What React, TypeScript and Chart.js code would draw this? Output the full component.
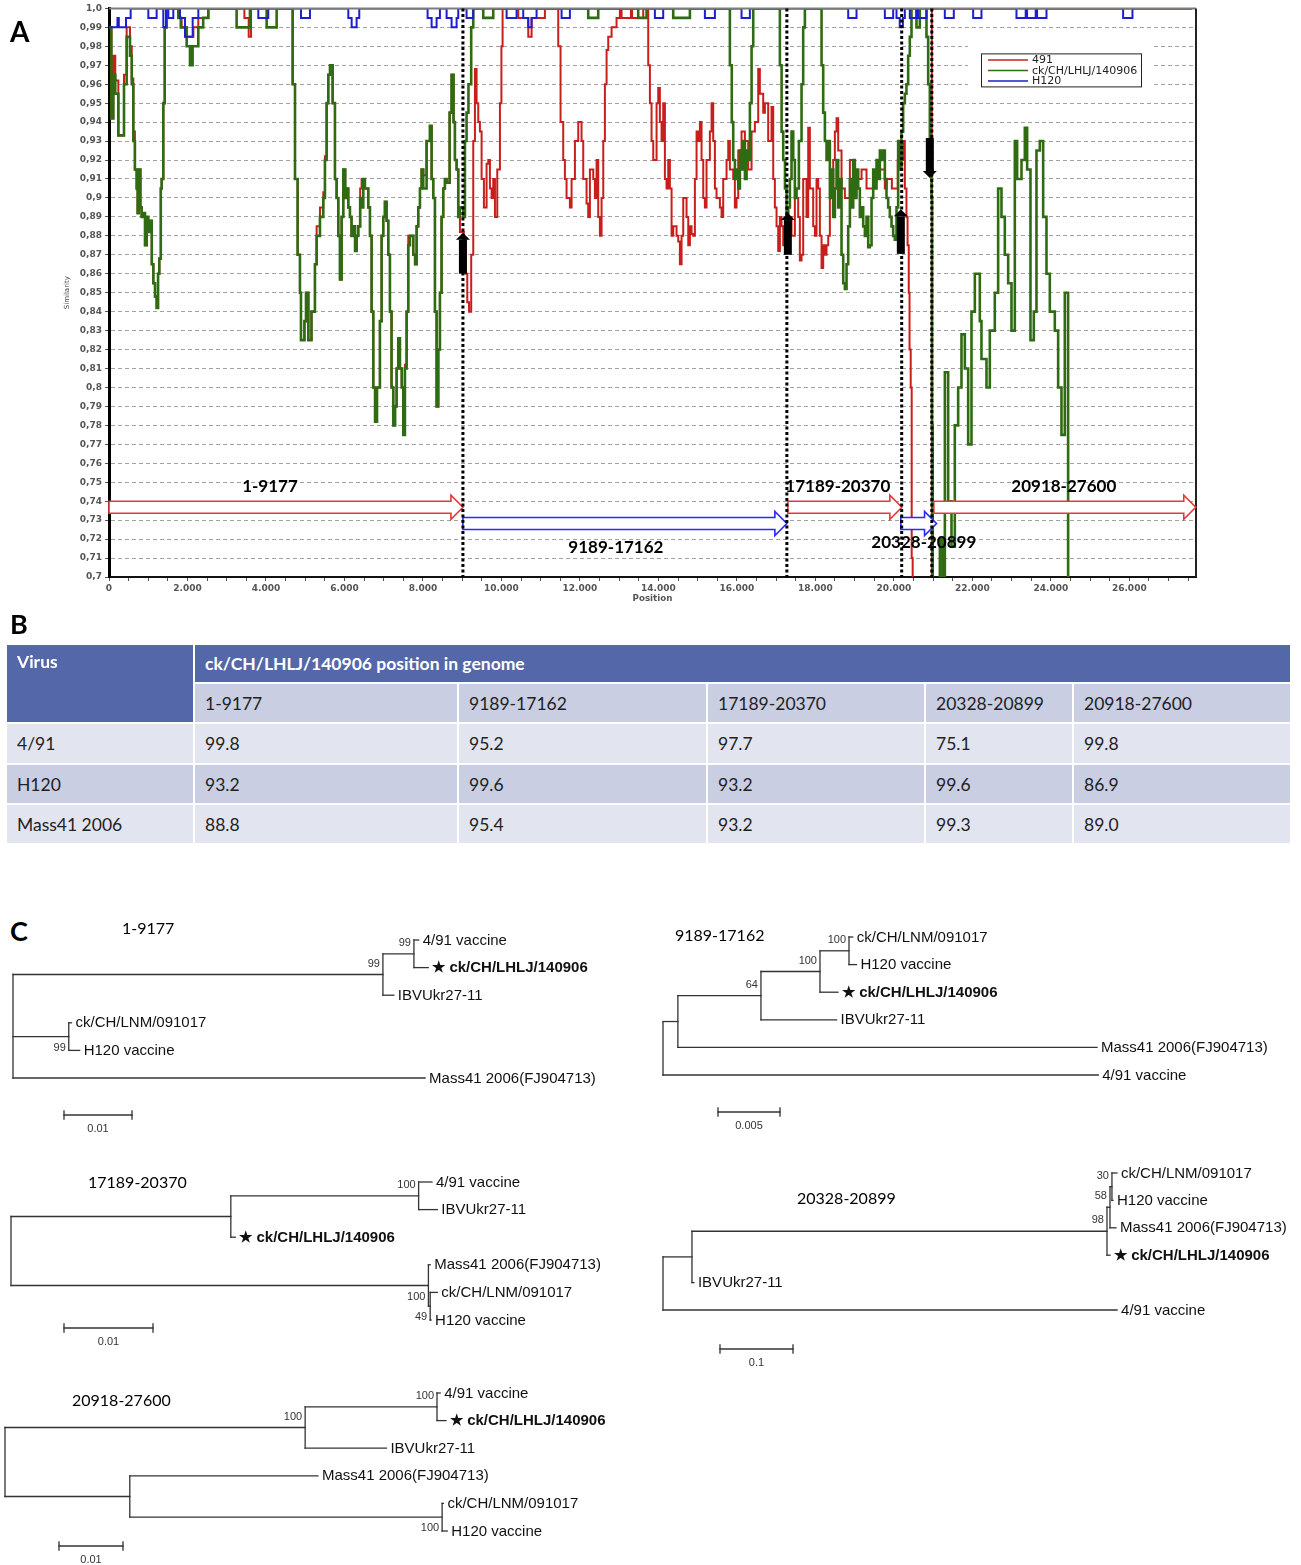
import React, { useEffect, useRef } from 'react';
import { Chart, registerables } from 'chart.js';

Chart.register(...registerables);

type Pt = [number, number];

// ================= Panel A : similarity plot data =================
const seriesLabels = ['491', 'ck/CH/LHLJ/140906', 'H120'];

const series491: Pt[] = [
  [0, 0.99], [60, 0.942], [110, 0.975], [160, 0.962], [238, 0.933], [382, 0.965], [450, 0.99], [535, 0.98], [580, 0.963], [620, 0.935],
  [660, 0.915], [705, 0.905], [730, 0.892], [760, 0.915], [800, 0.895], [832, 0.89], [870, 0.892], [917, 0.875], [960, 0.89], [1000, 0.882],
  [1045, 0.888], [1090, 0.865], [1130, 0.855], [1172, 0.848], [1214, 0.842], [1250, 0.86], [1282, 0.868], [1320, 0.905], [1342, 0.91], [1384, 0.95],
  [1420, 0.99], [1469, 1.0], [1766, 0.995], [1850, 0.99], [1950, 0.985], [2150, 0.99], [2276, 0.995], [2531, 1.0], [3450, 0.995], [3560, 0.985], [3620, 1.0],
  [4680, 0.96], [4740, 0.91], [4807, 0.87], [4866, 0.85], [4892, 0.825], [4980, 0.835], [5020, 0.85], [5080, 0.825], [5160, 0.84], [5248, 0.865],
  [5291, 0.885], [5376, 0.895], [5461, 0.903], [5503, 0.922], [5546, 0.95], [5588, 0.965], [5631, 0.97], [5699, 0.95], [5758, 0.91], [5800, 0.9],
  [5843, 0.88], [5885, 0.857], [5928, 0.89], [5970, 0.915], [6020, 0.9], [6055, 0.905], [6098, 0.895], [6140, 0.89], [6180, 0.88], [6225, 0.885],
  [6270, 0.872], [6310, 0.88], [6352, 0.885], [6400, 0.905], [6437, 0.91], [6480, 0.91], [6522, 0.905], [6607, 0.895], [6650, 0.88], [6692, 0.84],
  [6735, 0.8], [6780, 0.782], [6830, 0.8], [6904, 0.835], [6947, 0.88], [6989, 0.89], [7030, 0.898], [7074, 0.888], [7117, 0.87], [7159, 0.84],
  [7200, 0.8], [7244, 0.78], [7290, 0.79], [7329, 0.81], [7371, 0.826], [7414, 0.81], [7460, 0.8], [7499, 0.79], [7541, 0.812], [7584, 0.84],
  [7626, 0.88], [7669, 0.88], [7754, 0.87], [7800, 0.865], [7839, 0.885], [7881, 0.895], [7924, 0.905], [7966, 0.915], [8008, 0.912], [8093, 0.93],
  [8178, 0.938], [8221, 0.91], [8263, 0.9], [8306, 0.84], [8348, 0.79], [8391, 0.82], [8433, 0.85], [8475, 0.89], [8518, 0.905], [8560, 0.91],
  [8603, 0.908], [8680, 0.945], [8730, 0.965], [8780, 0.94], [8815, 0.92], [8858, 0.915], [8900, 0.89], [8943, 0.882], [9044, 0.878], [9090, 0.86],
  [9130, 0.845], [9175, 0.84], [9230, 0.87], [9282, 0.93], [9325, 0.968], [9367, 0.95], [9410, 0.94], [9452, 0.935], [9495, 0.91], [9554, 0.895],
  [9622, 0.918], [9665, 0.92], [9707, 0.905], [9750, 0.9], [9792, 0.91], [9835, 0.89], [9894, 0.915], [9962, 0.95], [10000, 0.98], [10030, 1.0],
  [10429, 0.995], [10684, 0.985], [10769, 0.995], [11108, 1.0],
  [11448, 0.98], [11507, 0.94], [11575, 0.92], [11618, 0.91], [11660, 0.9], [11745, 0.895], [11788, 0.91], [11873, 0.93], [11958, 0.94], [12042, 0.93],
  [12085, 0.91], [12170, 0.897], [12212, 0.89], [12255, 0.915], [12340, 0.91], [12382, 0.9], [12425, 0.92], [12467, 0.89], [12510, 0.88], [12552, 0.9],
  [12595, 0.93], [12637, 0.96], [12680, 0.978], [12722, 0.985], [12807, 0.99], [12934, 0.995], [13019, 1.0], [13062, 0.995], [13300, 1.0], [13330, 0.995], [13614, 1.0],
  [13741, 0.97], [13784, 0.95], [13826, 0.93], [13869, 0.92], [13954, 0.95], [13996, 0.958], [14038, 0.94], [14081, 0.93], [14123, 0.95], [14166, 0.91],
  [14208, 0.905], [14251, 0.92], [14293, 0.905], [14336, 0.88], [14378, 0.885], [14463, 0.88], [14506, 0.877], [14548, 0.865], [14591, 0.88], [14633, 0.9],
  [14718, 0.89], [14761, 0.875], [14803, 0.885], [14845, 0.881], [14888, 0.88], [14930, 0.91], [14973, 0.935], [15015, 0.93], [15058, 0.94], [15100, 0.92],
  [15143, 0.9], [15185, 0.895], [15227, 0.92], [15312, 0.935], [15355, 0.95], [15397, 0.93], [15440, 0.905], [15482, 0.9], [15567, 0.895], [15610, 0.89],
  [15652, 0.91], [15737, 0.92], [15780, 0.93], [15822, 0.915], [15907, 0.91], [15949, 0.895], [15992, 0.9], [16035, 0.925], [16119, 0.935], [16204, 0.93],
  [16289, 0.915], [16374, 0.935], [16459, 0.94], [16544, 0.968], [16586, 0.955], [16671, 0.945], [16714, 0.95], [16798, 0.93], [16883, 0.948], [16926, 0.91],
  [16968, 0.895], [17011, 0.885], [17053, 0.872], [17096, 0.89], [17138, 0.885], [17181, 0.875], [17266, 0.88], [17308, 0.89], [17393, 0.88], [17478, 0.9],
  [17563, 0.89], [17605, 0.867], [17648, 0.87], [17690, 0.91], [17775, 0.89], [17818, 0.937], [17860, 0.905], [17945, 0.885], [17988, 0.88], [18030, 0.91],
  [18073, 0.905], [18115, 0.88], [18158, 0.863], [18200, 0.875], [18243, 0.87], [18285, 0.875], [18328, 0.88], [18370, 0.9], [18455, 0.92], [18497, 0.935],
  [18540, 0.942], [18582, 0.925], [18667, 0.905], [18752, 0.9], [18880, 0.92], [19007, 0.91], [19177, 0.915], [19304, 0.905], [19474, 0.91], [19644, 0.915],
  [19770, 0.905], [19813, 0.91], [19950, 0.905], [20100, 0.92], [20237, 0.93], [20280, 0.905], [20322, 0.89], [20350, 0.875], [20380, 0.85], [20400, 0.82],
  [20430, 0.8], [20455, 0.71], [20480, 0.66], [20968, 1.0], [27600, 1.0],
];

const seriesLHLJ: Pt[] = [
  [0, 0.99], [60, 0.942], [110, 0.965], [160, 0.955], [238, 0.933], [382, 0.96], [450, 0.985], [535, 0.975], [580, 0.96], [620, 0.93],
  [660, 0.915], [705, 0.905], [730, 0.892], [760, 0.915], [800, 0.895], [832, 0.89], [870, 0.892], [917, 0.875], [960, 0.89], [1000, 0.882],
  [1045, 0.888], [1090, 0.865], [1130, 0.855], [1172, 0.848], [1214, 0.842], [1250, 0.86], [1282, 0.868], [1320, 0.905], [1342, 0.91], [1384, 0.95],
  [1420, 0.99], [1469, 1.0], [1766, 0.995], [1830, 0.99], [1979, 0.98], [2064, 0.97], [2130, 0.98], [2276, 0.99], [2400, 0.995], [2531, 1.0],
  [3252, 0.99], [3592, 1.0], [4017, 0.99], [4272, 1.0],
  [4680, 0.96], [4740, 0.91], [4807, 0.87], [4866, 0.85], [4892, 0.825], [4980, 0.835], [5020, 0.85], [5080, 0.825], [5160, 0.84], [5248, 0.865],
  [5291, 0.88], [5376, 0.89], [5461, 0.9], [5503, 0.92], [5546, 0.95], [5588, 0.965], [5631, 0.97], [5699, 0.95], [5758, 0.91], [5800, 0.9],
  [5843, 0.88], [5885, 0.857], [5928, 0.89], [5970, 0.915], [6020, 0.9], [6055, 0.905], [6098, 0.895], [6140, 0.89], [6180, 0.88], [6225, 0.885],
  [6270, 0.872], [6310, 0.88], [6352, 0.885], [6400, 0.9], [6437, 0.895], [6480, 0.91], [6522, 0.905], [6607, 0.895], [6650, 0.88], [6692, 0.84],
  [6735, 0.8], [6780, 0.782], [6830, 0.8], [6904, 0.835], [6947, 0.88], [6989, 0.89], [7030, 0.898], [7074, 0.888], [7117, 0.87], [7159, 0.84],
  [7200, 0.8], [7244, 0.78], [7290, 0.79], [7329, 0.81], [7371, 0.826], [7414, 0.81], [7460, 0.8], [7499, 0.775], [7541, 0.81], [7584, 0.84],
  [7626, 0.875], [7669, 0.88], [7754, 0.87], [7800, 0.865], [7839, 0.885], [7881, 0.895], [7924, 0.905], [7966, 0.915], [8008, 0.905], [8093, 0.93],
  [8178, 0.938], [8221, 0.91], [8263, 0.9], [8306, 0.84], [8348, 0.79], [8391, 0.82], [8433, 0.85], [8475, 0.89], [8518, 0.905], [8560, 0.91],
  [8603, 0.908], [8680, 0.945], [8730, 0.965], [8780, 0.94], [8815, 0.92], [8858, 0.915], [8900, 0.89], [8943, 0.895], [9028, 0.89], [9070, 0.93],
  [9112, 0.945], [9160, 0.96], [9230, 0.99], [9282, 1.0],
  [9537, 0.995], [9792, 1.0], [12212, 0.995], [12467, 1.0], [13486, 0.995], [13699, 1.0], [14378, 0.995], [14803, 1.0],
  [15822, 0.97], [15870, 0.94], [15907, 0.92], [15950, 0.91], [15992, 0.915], [16035, 0.905], [16077, 0.925], [16120, 0.915], [16162, 0.93], [16205, 0.91],
  [16247, 0.925], [16290, 0.92], [16332, 0.95], [16375, 0.98], [16417, 1.0],
  [17096, 0.97], [17140, 0.935], [17181, 0.92], [17226, 0.905], [17266, 0.89], [17310, 0.895], [17351, 0.91], [17393, 0.935], [17436, 0.92], [17478, 0.9],
  [17521, 0.905], [17580, 0.93], [17648, 0.96], [17690, 0.99], [17733, 1.0],
  [18158, 0.97], [18200, 0.945], [18243, 0.93], [18285, 0.92], [18328, 0.93], [18370, 0.9], [18413, 0.915], [18455, 0.89], [18497, 0.905], [18540, 0.92],
  [18582, 0.895], [18625, 0.91], [18667, 0.87], [18710, 0.855], [18752, 0.852], [18795, 0.865], [18837, 0.885], [18880, 0.91], [18922, 0.895], [18965, 0.92],
  [19007, 0.9], [19049, 0.915], [19092, 0.905], [19134, 0.89], [19177, 0.895], [19219, 0.885], [19262, 0.88], [19304, 0.89], [19347, 0.874], [19389, 0.875],
  [19432, 0.9], [19474, 0.915], [19517, 0.905], [19559, 0.92], [19601, 0.91], [19644, 0.925], [19686, 0.92], [19728, 0.925], [19771, 0.91], [19813, 0.9],
  [19856, 0.895], [19898, 0.89], [19941, 0.885], [19983, 0.88], [20025, 0.878], [20068, 0.895], [20110, 0.93], [20153, 0.915], [20195, 0.935], [20237, 0.95],
  [20280, 0.955], [20322, 0.96], [20365, 0.975], [20407, 0.985], [20450, 1.0], [20577, 0.99], [20662, 1.0], [20832, 0.985], [20875, 0.96], [20917, 0.93],
  [20960, 0.9], [20975, 0.78], [20990, 0.69],
  [21173, 0.72], [21240, 0.69], [21300, 0.808], [21384, 0.74], [21469, 0.716], [21554, 0.78], [21639, 0.8], [21724, 0.828], [21809, 0.81], [21894, 0.77],
  [21979, 0.84], [22064, 0.86], [22191, 0.835], [22233, 0.815], [22361, 0.8], [22446, 0.83], [22573, 0.85], [22658, 0.905], [22743, 0.89], [22828, 0.87],
  [22913, 0.855], [22998, 0.83], [23083, 0.93], [23142, 0.91], [23253, 0.92], [23338, 0.937], [23397, 0.915], [23482, 0.825], [23567, 0.84], [23635, 0.925],
  [23720, 0.93], [23805, 0.89], [23890, 0.86], [23975, 0.84], [24102, 0.83], [24187, 0.8], [24272, 0.775], [24357, 0.85], [24441, 0.66], [24600, 0.66],
];

const seriesH120: Pt[] = [
  [0, 0.99], [215, 0.995], [250, 0.99], [433, 0.995], [552, 1.0],
  [1002, 0.995], [1214, 1.0], [1384, 0.99], [1452, 1.0], [1512, 0.995], [1639, 1.0], [1809, 0.995], [1936, 0.985], [2132, 0.995], [2276, 1.0],
  [3805, 0.995], [4059, 1.0], [4892, 0.995], [5121, 1.0], [6098, 0.995], [6183, 0.99], [6310, 0.995], [6378, 1.0],
  [8119, 0.995], [8221, 0.99], [8348, 0.995], [8433, 1.0], [8603, 0.995], [8730, 0.99], [8858, 0.995], [8900, 1.0], [9112, 0.995], [9282, 1.0],
  [10132, 0.995], [10387, 1.0], [10556, 0.995], [10684, 0.99], [10769, 0.995], [10896, 1.0], [11533, 0.995], [11745, 1.0],
  [13911, 0.995], [14123, 1.0], [15185, 0.995], [15440, 1.0], [16119, 0.995], [16331, 1.0], [18837, 0.995], [19049, 1.0],
  [19771, 0.995], [19983, 1.0], [20068, 0.995], [20150, 0.99], [20230, 0.995], [20280, 1.0], [20407, 0.995], [20577, 1.0], [20620, 0.995], [20832, 1.0],
  [21299, 0.995], [21528, 1.0], [22021, 0.995], [22233, 1.0], [23125, 0.995], [23360, 1.0], [23395, 0.995], [23615, 1.0], [23650, 0.995], [23890, 1.0],
  [25843, 0.995], [26081, 1.0], [27600, 1.0],
];

const xMin = 0;
const xMax = 27700;
const yMin = 0.7;
const yMax = 1.0;
const xTickValues = Array.from({ length: 56 }, (_, i) => i * 500);
const xLabelStep = 2000;
const yTickStep = 0.01;

const breakpoints = [9019, 17274, 20200, 20968];
const regionLabels = ['1-9177', '9189-17162', '17189-20370', '20328-20899', '20918-27600'];
const regionFrom = [0, 9019, 17299, 20178, 21019];
const regionTo = [9019, 17274, 20204, 21088, 27694];
const regionParent = ['491', 'H120', '491', 'H120', '491'];
const regionLevel = [0.7368, 0.7282, 0.7368, 0.7282, 0.7368];
const regionLabelX = [4102, 12917, 18573, 20764, 24331];
const regionLabelY = [0.7479, 0.7153, 0.7479, 0.7184, 0.7479];
const breakArrowX = [9019, 17299, 20178, 20917];
const breakArrowFrom = [0.86, 0.87, 0.8705, 0.9316];
const breakArrowTo = [0.8816, 0.892, 0.894, 0.9105];

// ================= Panel B : table =================
const tableVirusHeader = 'Virus';
const tableSpanHeader = 'ck/CH/LHLJ/140906 position in genome';
const tableRegions = ['1-9177', '9189-17162', '17189-20370', '20328-20899', '20918-27600'];
const tableViruses = ['4/91', 'H120', 'Mass41 2006'];
const identity491 = ['99.8', '95.2', '97.7', '75.1', '99.8'];
const identityH120 = ['93.2', '99.6', '93.2', '99.6', '86.9'];
const identityMass41 = ['88.8', '95.4', '93.2', '99.3', '89.0'];

// ================= Panel C : trees (branch lengths, substitutions/site) =================
const tree1_9177 = { len: 0, children: [
  { len: 0.0544, bs: '99', children: [
    { len: 0.00456, bs: '99', children: [
      { name: '4/91 vaccine', len: 0.0007 },
      { name: 'ck/CH/LHLJ/140906', mark: true, len: 0.0021 },
    ] },
    { name: 'IBVUkr27-11', len: 0.0016 },
  ] },
  { len: 0.0082, bs: '99', below: true, children: [
    { name: 'ck/CH/LNM/091017', len: 0.0004 },
    { name: 'H120 vaccine', len: 0.0016 },
  ] },
  { name: 'Mass41 2006(FJ904713)', len: 0.0606 },
] };

const tree9189_17162 = { len: 0, children: [
  { len: 0.0012, children: [
    { len: 0.0067, bs: '64', children: [
      { len: 0.00476, bs: '100', children: [
        { len: 0.00234, bs: '100', children: [
          { name: 'ck/CH/LNM/091017', len: 0.0003 },
          { name: 'H120 vaccine', len: 0.0006 },
        ] },
        { name: 'ck/CH/LHLJ/140906', mark: true, len: 0.00145 },
      ] },
      { name: 'IBVUkr27-11', len: 0.0061 },
    ] },
    { name: 'Mass41 2006(FJ904713)', len: 0.0338 },
  ] },
  { name: '4/91 vaccine', len: 0.0351 },
] };

const tree17189_20370 = { len: 0, children: [
  { len: 0.0247, children: [
    { len: 0.0211, bs: '100', children: [
      { name: '4/91 vaccine', len: 0.0015 },
      { name: 'IBVUkr27-11', len: 0.0021 },
    ] },
    { name: 'ck/CH/LHLJ/140906', mark: true, len: 0.0005 },
  ] },
  { len: 0.0469, bs: '100', below: true, children: [
    { name: 'Mass41 2006(FJ904713)', len: 0.0002 },
    { len: 0.0002, bs: '49', below: true, children: [
      { name: 'ck/CH/LNM/091017', len: 0.0008 },
      { name: 'H120 vaccine', len: 0.0001 },
    ] },
  ] },
] };

const tree20328_20899 = { len: 0, children: [
  { len: 0.0397, children: [
    { len: 0.5685, bs: '98', children: [
      { len: 0.0041, bs: '58', children: [
        { len: 0.0027, bs: '30', children: [
          { name: 'ck/CH/LNM/091017', len: 0.0068 },
          { name: 'H120 vaccine', len: 0.0014 },
        ] },
        { name: 'Mass41 2006(FJ904713)', len: 0.0082 },
      ] },
      { name: 'ck/CH/LHLJ/140906', mark: true, len: 0.0041 },
    ] },
    { name: 'IBVUkr27-11', len: 0.0027 },
  ] },
  { name: '4/91 vaccine', len: 0.622 },
] };

const tree20918_27600 = { len: 0, children: [
  { len: 0.0469, bs: '100', children: [
    { len: 0.0206, bs: '100', children: [
      { name: '4/91 vaccine', len: 0.0005 },
      { name: 'ck/CH/LHLJ/140906', mark: true, len: 0.0014 },
    ] },
    { name: 'IBVUkr27-11', len: 0.0127 },
  ] },
  { len: 0.0195, children: [
    { name: 'Mass41 2006(FJ904713)', len: 0.0294 },
    { len: 0.0488, bs: '100', below: true, children: [
      { name: 'ck/CH/LNM/091017', len: 0.0002 },
      { name: 'H120 vaccine', len: 0.0008 },
    ] },
  ] },
] };

const treeTitles = ['1-9177', '9189-17162', '17189-20370', '20328-20899', '20918-27600'];
const treeScaleLengths = [0.01, 0.005, 0.01, 0.1, 0.01];
const treeScaleLabels = ['0.01', '0.005', '0.01', '0.1', '0.01'];

// ================= styling =================
const C_RED = '#c81f1c';
const C_GREEN = '#2f6b13';
const C_BLUE = '#1e1ed0';
const C_ARROW_RED = '#e23a3a';
const C_ARROW_BLUE = '#2b2bf6';

const decorPlugin = {
  id: 'simplotDecor',
  afterDatasetsDraw(chart: any) {
    const { ctx, chartArea: a, scales } = chart;
    const px = (v: number) => scales.x.getPixelForValue(v);
    const py = (v: number) => scales.y.getPixelForValue(v);
    ctx.save();
    ctx.setLineDash([]);
    // frame
    ctx.strokeStyle = '#7c7c7c';
    ctx.lineWidth = 2;
    ctx.beginPath(); ctx.moveTo(a.left, a.top); ctx.lineTo(a.right, a.top); ctx.stroke();
    ctx.strokeStyle = '#222';
    ctx.beginPath(); ctx.moveTo(a.right, a.top); ctx.lineTo(a.right, a.bottom); ctx.stroke();

    // hollow region arrows
    regionLabels.forEach((_, i) => {
      const x0 = px(regionFrom[i]);
      const x1 = px(regionTo[i]);
      const yc = py(regionLevel[i]);
      const sh = 6, hh = 12, hl = 12;
      ctx.beginPath();
      ctx.moveTo(x0, yc - sh);
      ctx.lineTo(x1 - hl, yc - sh);
      ctx.lineTo(x1 - hl, yc - hh);
      ctx.lineTo(x1, yc);
      ctx.lineTo(x1 - hl, yc + hh);
      ctx.lineTo(x1 - hl, yc + sh);
      ctx.lineTo(x0, yc + sh);
      ctx.closePath();
      ctx.fillStyle = '#fff';
      ctx.fill();
      ctx.lineWidth = 1.6;
      ctx.strokeStyle = regionParent[i] === 'H120' ? C_ARROW_BLUE : C_ARROW_RED;
      ctx.stroke();
    });

    // dotted breakpoints
    ctx.strokeStyle = '#000';
    ctx.lineWidth = 3;
    ctx.setLineDash([3, 2.5]);
    breakpoints.forEach((b) => {
      const x = px(b);
      ctx.beginPath(); ctx.moveTo(x, a.top); ctx.lineTo(x, a.bottom); ctx.stroke();
    });
    ctx.setLineDash([]);

    // region labels
    ctx.fillStyle = '#000';
    ctx.font = 'bold 17px Lato';
    ctx.textAlign = 'center';
    ctx.textBaseline = 'middle';
    regionLabels.forEach((t, i) => ctx.fillText(t, px(regionLabelX[i]), py(regionLabelY[i])));

    // black breakpoint arrows
    breakArrowX.forEach((bx, i) => {
      const x = px(bx);
      const y0 = py(breakArrowFrom[i]);
      const y1 = py(breakArrowTo[i]);
      const dir = y1 > y0 ? 1 : -1;
      const hb = y1 - dir * 7;
      ctx.fillStyle = '#000';
      ctx.fillRect(x - 4, Math.min(y0, hb), 8, Math.abs(hb - y0));
      ctx.beginPath();
      ctx.moveTo(x - 7, hb); ctx.lineTo(x + 7, hb); ctx.lineTo(x, y1); ctx.closePath();
      ctx.fill();
    });

    // legend
    ctx.fillStyle = '#fff';
    ctx.fillRect(a.right - 228, a.top + 29, 185, 56);
    const lx = a.right - 215;
    const ly = a.top + 45;
    ctx.strokeStyle = '#222';
    ctx.lineWidth = 1;
    ctx.strokeRect(lx + 0.5, ly + 0.5, 160, 33);
    const cols = [C_RED, C_GREEN, C_BLUE];
    ctx.font = '11px "DejaVu Sans"';
    ctx.textAlign = 'left';
    ctx.textBaseline = 'middle';
    seriesLabels.forEach((name, i) => {
      const yy = ly + 6.5 + i * 10.5;
      ctx.strokeStyle = cols[i];
      ctx.lineWidth = 1.5;
      ctx.beginPath(); ctx.moveTo(lx + 7, yy); ctx.lineTo(lx + 47, yy); ctx.stroke();
      ctx.fillStyle = '#222';
      ctx.fillText(name, lx + 51, yy + 0.5);
    });

    // axis titles
    ctx.fillStyle = '#444';
    ctx.font = '7px "DejaVu Sans"';
    ctx.textAlign = 'center';
    ctx.save();
    ctx.translate(67, (a.top + a.bottom) / 2);
    ctx.rotate(-Math.PI / 2);
    ctx.fillText('Similarity', 0, 0);
    ctx.restore();
    ctx.font = 'bold 8.7px "DejaVu Sans"';
    ctx.fillStyle = '#555';
    ctx.fillText('Position', (a.left + a.right) / 2, a.bottom + 22);
    ctx.restore();
  },
};

function SimPlot() {
  const ref = useRef<HTMLCanvasElement | null>(null);
  useEffect(() => {
    const toXY = (arr: Pt[]) => arr.map(([x, y]) => ({ x, y }));
    const mk = (label: string, data: Pt[], color: string, order: number, width: number) => ({
      label, data: toXY(data), borderColor: color, backgroundColor: color, borderWidth: width,
      pointRadius: 0, stepped: true, fill: false, order,
    });
    const tickFont = { family: '"DejaVu Sans"', size: 9, weight: 'bold' };
    const chart = new Chart(ref.current as HTMLCanvasElement, {
      type: 'line',
      data: {
        datasets: [
          mk(seriesLabels[0], series491, C_RED, 3, 2),
          mk(seriesLabels[1], seriesLHLJ, C_GREEN, 2, 2.6),
          mk(seriesLabels[2], seriesH120, C_BLUE, 1, 2),
        ],
      },
      options: {
        animation: false,
        responsive: false,
        layout: { padding: { left: 0, top: 7, right: 105, bottom: 0 } },
        plugins: { legend: { display: false }, tooltip: { enabled: false } },
        scales: {
          x: {
            type: 'linear', min: xMin, max: xMax,
            afterFit: (s: any) => { s.height = 33; },
            afterBuildTicks: (s: any) => { s.ticks = xTickValues.map((v) => ({ value: v })); },
            grid: { display: true, drawOnChartArea: false, drawTicks: true, tickLength: 4, tickColor: '#555' },
            border: { display: true, color: '#111', width: 2 },
            ticks: {
              autoSkip: false, maxRotation: 0, padding: 2,
              color: '#555', font: tickFont,
              callback: (v: number) => (v % xLabelStep === 0 ? (v === 0 ? '0' : (v / 1000).toFixed(0) + '.000') : ''),
            },
          },
          y: {
            type: 'linear', min: yMin, max: yMax,
            afterFit: (s: any) => { s.width = 109; },
            grid: { color: '#a2a2a2', lineWidth: 1, drawTicks: true, tickLength: 4, tickColor: '#555' },
            border: { display: true, color: '#000', width: 3, dash: [4, 3] },
            ticks: {
              stepSize: yTickStep, autoSkip: false, padding: 3, color: '#555', font: tickFont,
              callback: (v: number) => {
                const r = Math.round(v * 100) / 100;
                if (r === 1) return '1,0';
                let s = r.toFixed(2);
                if (s.endsWith('0')) s = r.toFixed(1);
                return s.replace('.', ',');
              },
            },
          },
        },
      },
      plugins: [decorPlugin],
    } as any);
    return () => chart.destroy();
  }, []);
  return <canvas ref={ref} width={1301} height={610} style={{ position: 'absolute', left: 0, top: 0 }} />;
}

// ---------- tree helpers ----------
function layoutTree(root: any) {
  const segs: number[][] = [];
  const leaves: any[] = [];
  const supports: any[] = [];
  let row = 0;
  const walk = (n: any, x0: number): number => {
    const x1 = x0 + n.len;
    let y: number;
    if (!n.children) {
      y = row;
      row += 1;
      leaves.push({ x: x1, y, name: n.name, mark: !!n.mark });
    } else {
      const ys = n.children.map((c: any) => walk(c, x1));
      const yt = ys[0];
      const yb = ys[ys.length - 1];
      y = (yt + yb) / 2;
      segs.push([x1, yt, x1, yb]);
      if (n.bs) supports.push({ x: x1, y, text: n.bs, below: !!n.below });
    }
    if (n.len > 0) segs.push([x0, y, x1, y]);
    return y;
  };
  walk(root, 0);
  return { segs, leaves, supports };
}

const treeBoxes = [
  { left: 0, top: 918, w: 640, h: 225, rootPx: 13, rowTop: 940, rowGap: 27.6, pxPerUnit: 6800, barPx: 64, barPy: 1115, titleX: 122, titleY: 928 },
  { left: 650, top: 918, w: 651, h: 225, rootPx: 663, rowTop: 937, rowGap: 27.6, pxPerUnit: 12400, barPx: 718, barPy: 1112, titleX: 675, titleY: 935 },
  { left: 0, top: 1160, w: 640, h: 200, rootPx: 11, rowTop: 1182, rowGap: 27.6, pxPerUnit: 8900, barPx: 64, barPy: 1328, titleX: 88, titleY: 1182 },
  { left: 650, top: 1150, w: 651, h: 225, rootPx: 663, rowTop: 1173, rowGap: 27.4, pxPerUnit: 730, barPx: 720, barPy: 1349, titleX: 797, titleY: 1198 },
  { left: 0, top: 1378, w: 640, h: 187, rootPx: 5, rowTop: 1393, rowGap: 27.6, pxPerUnit: 6400, barPx: 59, barPy: 1546, titleX: 72, titleY: 1400 },
];

function TreeChart({ tree, box, scaleLen, scaleText }: any) {
  const ref = useRef<HTMLCanvasElement | null>(null);
  useEffect(() => {
    const lay = layoutTree(tree);
    const barX = (box.barPx - box.rootPx) / box.pxPerUnit;
    const barY = (box.barPy - box.rowTop) / box.rowGap;
    const tk = 4 / box.rowGap;
    const segs = [
      ...lay.segs,
      [barX, barY, barX + scaleLen, barY],
      [barX, barY - tk, barX, barY + tk],
      [barX + scaleLen, barY - tk, barX + scaleLen, barY + tk],
    ];
    const datasets = segs.map((s) => ({
      data: [{ x: s[0], y: s[1] }, { x: s[2], y: s[3] }],
      showLine: true, borderColor: '#333', borderWidth: 1.3, pointRadius: 0, borderCapStyle: 'square',
    }));
    const labelPlugin = {
      id: 'treeLabels',
      afterDatasetsDraw(chart: any) {
        const { ctx, scales } = chart;
        const px = (v: number) => scales.x.getPixelForValue(v);
        const py = (v: number) => scales.y.getPixelForValue(v);
        ctx.save();
        ctx.textBaseline = 'middle';
        ctx.textAlign = 'left';
        ctx.fillStyle = '#111';
        lay.leaves.forEach((l: any) => {
          ctx.font = l.mark ? 'bold 15px "Liberation Sans", Arial' : '15px "Liberation Sans", Arial';
          ctx.fillText(l.mark ? '\u2605 ' + l.name : l.name, px(l.x) + 4, py(l.y) + 0.5);
        });
        ctx.font = '11px "Liberation Sans", Arial';
        ctx.fillStyle = '#333';
        ctx.textAlign = 'right';
        lay.supports.forEach((s: any) => {
          ctx.fillText(s.text, px(s.x) - 3, py(s.y) + (s.below ? 11 : -11));
        });
        ctx.textAlign = 'center';
        ctx.fillText(scaleText, px(barX + scaleLen / 2), py(barY) + 14);
        ctx.restore();
      },
    };
    const chart = new Chart(ref.current as HTMLCanvasElement, {
      type: 'scatter',
      data: { datasets },
      options: {
        animation: false,
        responsive: false,
        layout: { padding: 0 },
        plugins: { legend: { display: false }, tooltip: { enabled: false } },
        scales: {
          x: { type: 'linear', display: false, min: (box.left - box.rootPx) / box.pxPerUnit, max: (box.left + box.w - box.rootPx) / box.pxPerUnit },
          y: { type: 'linear', display: false, reverse: true, min: (box.top - box.rowTop) / box.rowGap, max: (box.top + box.h - box.rowTop) / box.rowGap },
        },
      },
      plugins: [labelPlugin],
    } as any);
    return () => chart.destroy();
  }, []);
  return <canvas ref={ref} width={box.w} height={box.h} style={{ position: 'absolute', left: box.left, top: box.top }} />;
}

function Txt({ x, y, size, bold, color = '#000', family = 'Lato', children }: any) {
  return (
    <div style={{
      position: 'absolute', left: x, top: y, transform: 'translateY(-50%)', fontSize: size,
      fontWeight: bold ? 700 : 400, fontFamily: family, lineHeight: 1, color, whiteSpace: 'nowrap',
    }}>{children}</div>
  );
}

function SimilarityTable() {
  const colX = [7, 195, 459, 708, 926, 1074, 1292];
  const rowY = [645, 684, 724, 765, 805, 845];
  const DARK = '#5468a9';
  const MID = '#c9cee2';
  const LIGHT = '#e2e5f0';
  const rows = [identity491, identityH120, identityMass41];
  const cells: any[] = [];
  const cell = (key: string, x0: number, x1: number, y0: number, y1: number, bg: string, text: string, bold: boolean, color: string) => {
    cells.push(
      <div key={key} style={{
        position: 'absolute', left: x0, top: y0, width: x1 - x0, height: y1 - y0, background: bg,
        display: 'flex', alignItems: 'center', boxSizing: 'border-box', paddingLeft: 10,
        fontFamily: 'Lato', fontSize: 17.5, fontWeight: bold ? 700 : 400, color, whiteSpace: 'nowrap',
      }}>{text}</div>,
    );
  };
  cell('vh', colX[0], colX[1] - 2, rowY[0], rowY[2] - 2, DARK, '', true, '#fff');
  cell('sh', colX[1], colX[6] - 2, rowY[0], rowY[1] - 2, DARK, tableSpanHeader, true, '#fff');
  tableRegions.forEach((r, i) => cell('rh' + i, colX[i + 1], colX[i + 2] - 2, rowY[1], rowY[2] - 2, MID, r, false, '#222'));
  tableViruses.forEach((v, ri) => {
    const bg = ri === 1 ? MID : LIGHT;
    cell('v' + ri, colX[0], colX[1] - 2, rowY[ri + 2], rowY[ri + 3] - 2, bg, v, false, '#222');
    rows[ri].forEach((val, ci) => cell('c' + ri + '_' + ci, colX[ci + 1], colX[ci + 2] - 2, rowY[ri + 2], rowY[ri + 3] - 2, bg, val, false, '#222'));
  });
  return (
    <>
      {cells}
      <Txt x={17} y={662} size={17.5} bold color="#fff">{tableVirusHeader}</Txt>
    </>
  );
}

export default function App() {
  const trees = [tree1_9177, tree9189_17162, tree17189_20370, tree20328_20899, tree20918_27600];
  return (
    <div style={{ position: 'absolute', left: 0, top: 0, width: 1301, height: 1565, background: '#fff', overflow: 'hidden' }}>
      <SimPlot />
      <Txt x={10} y={31} size={28} bold>A</Txt>
      <Txt x={10} y={623} size={27} bold>B</Txt>
      <SimilarityTable />
      <Txt x={10} y={930} size={27} bold>C</Txt>
      {trees.map((t, i) => (
        <TreeChart key={i} tree={t} box={treeBoxes[i]} scaleLen={treeScaleLengths[i]} scaleText={treeScaleLabels[i]} />
      ))}
      {treeTitles.map((t, i) => (
        <Txt key={'tt' + i} x={treeBoxes[i].titleX} y={treeBoxes[i].titleY} size={16}>{t}</Txt>
      ))}
    </div>
  );
}
